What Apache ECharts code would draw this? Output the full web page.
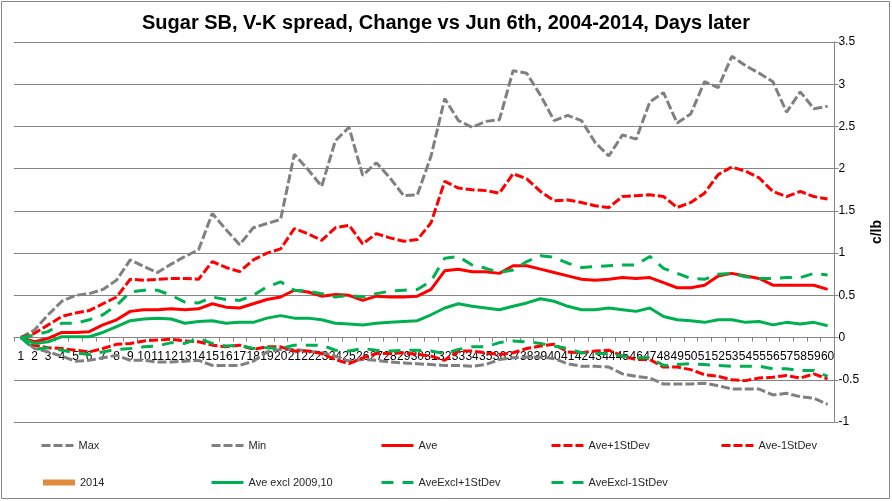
<!DOCTYPE html>
<html>
<head>
<meta charset="utf-8">
<script src="https://cdn.jsdelivr.net/npm/echarts@6/dist/echarts.min.js"></script>
<style>
html,body{margin:0;padding:0;background:#fff;}
#chart{width:892px;height:501px;}
</style>
</head>
<body>
<div id="chart"></div>
<script>
var days = ['1','2','3','4','5','6','7','8','9','10','11','12','13','14','15','16','17','18','19','20',
  '21','22','23','24','25','26','27','28','29','30','31','32','33','34','35','36','37','38','39','40',
  '41','42','43','44','45','46','47','48','49','50','51','52','53','54','55','56','57','58','59','60'];
var yTicks = [-1, -0.5, 0, 0.5, 1, 1.5, 2, 2.5, 3, 3.5];

var maxV = [0,0.09,0.27,0.43,0.50,0.52,0.57,0.68,0.92,0.84,0.77,0.87,0.96,1.04,1.47,1.28,1.10,1.30,1.35,1.40,
  2.17,1.99,1.79,2.33,2.49,1.92,2.07,1.89,1.68,1.69,2.15,2.83,2.57,2.49,2.56,2.58,3.16,3.13,2.87,2.57,
  2.63,2.57,2.31,2.15,2.40,2.35,2.79,2.90,2.54,2.65,3.03,2.96,3.33,3.22,3.13,3.03,2.67,2.91,2.71,2.74];
var minV = [0,-0.13,-0.17,-0.22,-0.28,-0.27,-0.24,-0.21,-0.27,-0.27,-0.29,-0.29,-0.28,-0.27,-0.33,-0.33,-0.33,-0.28,-0.17,-0.14,
  -0.14,-0.16,-0.18,-0.22,-0.28,-0.26,-0.27,-0.29,-0.30,-0.31,-0.32,-0.33,-0.33,-0.34,-0.32,-0.26,-0.24,-0.23,-0.23,-0.25,
  -0.31,-0.34,-0.34,-0.35,-0.43,-0.46,-0.48,-0.55,-0.55,-0.55,-0.54,-0.57,-0.61,-0.61,-0.61,-0.68,-0.66,-0.70,-0.72,-0.79];
var aveV = [0,-0.05,-0.01,0.06,0.06,0.07,0.15,0.21,0.31,0.33,0.33,0.34,0.33,0.34,0.40,0.36,0.35,0.40,0.45,0.48,
  0.56,0.54,0.49,0.51,0.50,0.44,0.49,0.48,0.48,0.49,0.57,0.79,0.81,0.78,0.78,0.76,0.85,0.85,0.81,0.77,
  0.73,0.69,0.68,0.69,0.71,0.70,0.71,0.65,0.59,0.59,0.62,0.73,0.76,0.73,0.70,0.62,0.62,0.62,0.62,0.57];
var avePlus = [0,0.05,0.15,0.25,0.29,0.32,0.40,0.48,0.69,0.68,0.69,0.70,0.70,0.69,0.90,0.83,0.78,0.92,1.00,1.05,
  1.29,1.23,1.15,1.30,1.33,1.11,1.23,1.18,1.14,1.16,1.36,1.85,1.77,1.75,1.74,1.71,1.94,1.88,1.73,1.62,
  1.63,1.60,1.56,1.54,1.67,1.68,1.69,1.67,1.54,1.60,1.71,1.93,2.02,1.97,1.89,1.73,1.67,1.73,1.67,1.64];
var aveMinus = [0,-0.09,-0.12,-0.13,-0.15,-0.17,-0.13,-0.08,-0.07,-0.04,-0.03,-0.02,-0.04,-0.05,-0.09,-0.11,-0.09,-0.14,-0.11,-0.11,
  -0.16,-0.16,-0.19,-0.26,-0.31,-0.24,-0.19,-0.19,-0.18,-0.20,-0.22,-0.27,-0.16,-0.16,-0.18,-0.20,-0.18,-0.13,-0.10,-0.08,
  -0.17,-0.18,-0.16,-0.15,-0.22,-0.26,-0.26,-0.35,-0.35,-0.38,-0.44,-0.46,-0.50,-0.51,-0.48,-0.47,-0.45,-0.48,-0.43,-0.49];
var y2014 = [];
var exclV = [0,-0.07,-0.05,0.01,0.01,0.01,0.06,0.13,0.20,0.22,0.23,0.22,0.17,0.19,0.20,0.17,0.18,0.18,0.23,0.26,
  0.23,0.23,0.21,0.17,0.16,0.15,0.17,0.18,0.19,0.20,0.27,0.35,0.40,0.37,0.35,0.33,0.37,0.41,0.46,0.43,
  0.37,0.33,0.33,0.35,0.33,0.31,0.35,0.25,0.21,0.20,0.18,0.21,0.21,0.18,0.19,0.15,0.18,0.16,0.18,0.14];
var exclPlus = [0,0.03,0.07,0.17,0.17,0.21,0.27,0.38,0.54,0.56,0.56,0.50,0.42,0.41,0.48,0.45,0.44,0.50,0.60,0.66,
  0.56,0.55,0.52,0.48,0.50,0.48,0.52,0.55,0.56,0.57,0.67,0.94,0.96,0.86,0.82,0.77,0.80,0.90,0.97,0.95,
  0.88,0.83,0.84,0.85,0.86,0.86,0.96,0.82,0.76,0.70,0.69,0.75,0.76,0.72,0.70,0.70,0.71,0.71,0.76,0.74];
var exclMinus = [0,-0.14,-0.12,-0.15,-0.18,-0.20,-0.17,-0.14,-0.13,-0.11,-0.10,-0.06,-0.07,-0.01,-0.07,-0.10,-0.09,-0.13,-0.12,-0.13,
  -0.09,-0.09,-0.09,-0.15,-0.16,-0.13,-0.15,-0.16,-0.15,-0.15,-0.16,-0.19,-0.14,-0.11,-0.11,-0.06,-0.04,-0.05,-0.07,-0.10,
  -0.13,-0.18,-0.19,-0.19,-0.22,-0.24,-0.24,-0.33,-0.32,-0.31,-0.32,-0.33,-0.34,-0.34,-0.34,-0.37,-0.37,-0.39,-0.39,-0.46];

var names = ['Max','Min','Ave','Ave+1StDev','Ave-1StDev','2014','Ave excl 2009,10','AveExcl+1StDev','AveExcl-1StDev'];
var GRAY = '#808080', RED = '#FF0000', GREEN = '#00B050', ORANGE = '#E38B3C';
var SHORT = [9, 3], LONG = [12, 9];
var widths = [3, 3, 3, 3, 3, 6, 3, 3, 3];

function mk(name, data, color, type, width) {
  return {
    name: name, type: 'line', data: data, symbol: 'none', showSymbol: false,
    animation: false, smooth: false,
    lineStyle: { color: color, width: width || 3, type: type, cap: 'butt' },
    itemStyle: { color: color }
  };
}

var series = [
  mk(names[0], maxV, GRAY, SHORT),
  mk(names[1], minV, GRAY, SHORT),
  mk(names[2], aveV, RED, 'solid'),
  mk(names[3], avePlus, RED, SHORT),
  mk(names[4], aveMinus, RED, SHORT),
  mk(names[5], y2014, ORANGE, 'solid', 6),
  mk(names[6], exclV, GREEN, 'solid'),
  mk(names[7], exclPlus, GREEN, LONG),
  mk(names[8], exclMinus, GREEN, LONG)
];

var legendPos = [[40,440],[210,440],[380,440],[550,440],[720,440],[40,477],[210,477],[380,477],[550,477]];
var legends = names.map(function (n, i) {
  return {
    data: [n], left: legendPos[i][0], top: legendPos[i][1],
    itemWidth: 32, itemHeight: 12, itemGap: 0, padding: 0,
    itemStyle: { opacity: 0 },
    lineStyle: { width: widths[i] },
    textStyle: { fontSize: 11, color: '#262626', fontFamily: 'Liberation Sans' },
    selectedMode: false
  };
});

var chart = echarts.init(document.getElementById('chart'));
chart.setOption({
  backgroundColor: '#fff',
  animation: false,
  textStyle: { fontFamily: 'Liberation Sans' },
  title: {
    text: 'Sugar SB, V-K spread, Change vs Jun 6th, 2004-2014, Days later',
    left: 'center', top: 8,
    textStyle: { fontSize: 20, fontWeight: 'bold', color: '#000', fontFamily: 'Liberation Sans' }
  },
  legend: legends,
  grid: { left: 14, right: 43, top: 42, bottom: 79, containLabel: false },
  xAxis: {
    type: 'category', data: days, boundaryGap: true,
    offset: -84.44,
    axisLine: { show: true, onZero: false, lineStyle: { color: '#868686', width: 1 } },
    axisTick: { show: true, length: 4, inside: false, alignWithLabel: false, lineStyle: { color: '#868686' } },
    axisLabel: { interval: 0, hideOverlap: false, fontSize: 12, color: '#000', margin: 13 },
    splitLine: { show: false }
  },
  yAxis: {
    type: 'value', position: 'right', min: -1, max: 3.5, interval: 0.5,
    name: 'c/lb', nameLocation: 'middle', nameRotate: 90, nameGap: 34,
    nameTextStyle: { fontSize: 14, fontWeight: 'bold', color: '#000' },
    axisLine: { show: true, onZero: false, lineStyle: { color: '#868686', width: 1 } },
    axisTick: { show: true, length: 4, lineStyle: { color: '#868686' } },
    axisLabel: { fontSize: 12, color: '#000', margin: 4,
      formatter: function (v) { return yTicks.indexOf(v) >= 0 ? String(v) : ''; } },
    splitLine: { show: true, lineStyle: { color: '#868686', width: 1 } }
  },
  graphic: [{
    type: 'rect', shape: { x: 1.5, y: 1.5, width: 888, height: 497 },
    style: { fill: null, stroke: '#868686', lineWidth: 1 }, silent: true, z: -10
  }],
  series: series
});
</script>
</body>
</html>
